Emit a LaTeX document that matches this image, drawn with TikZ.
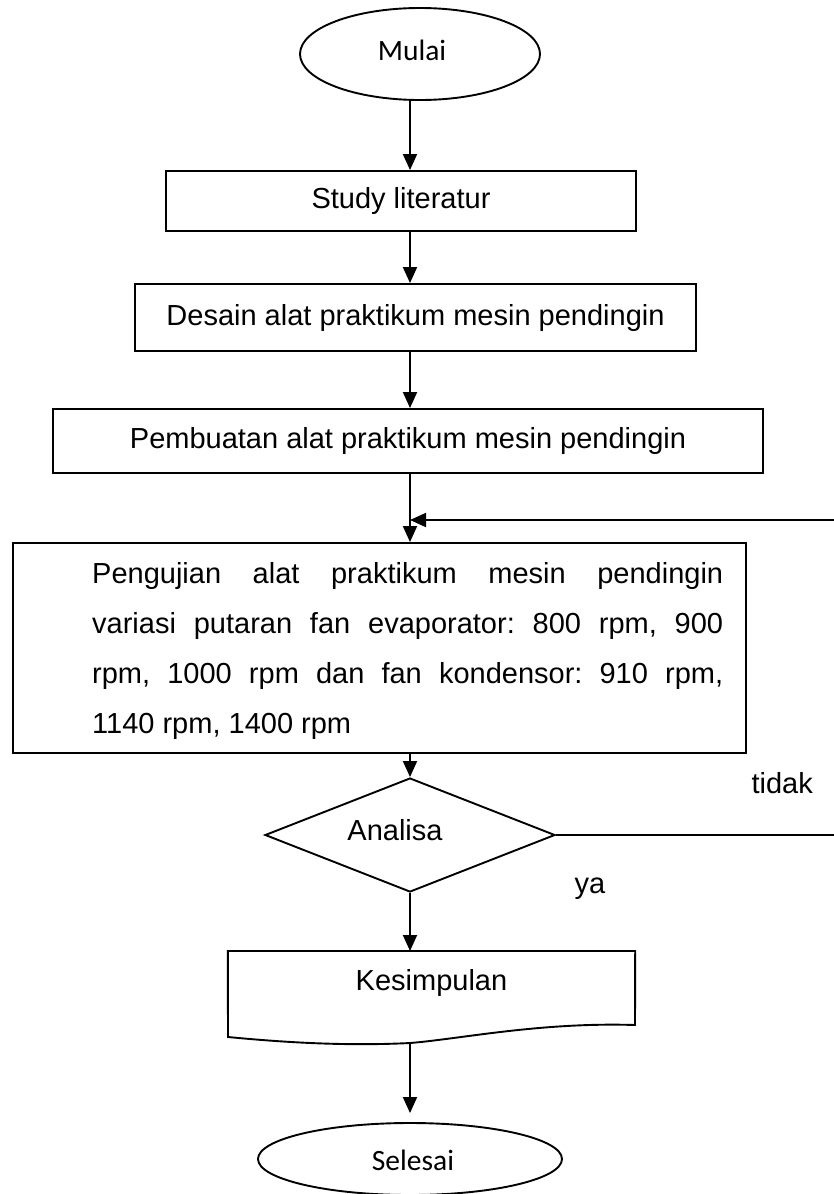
\documentclass[tikz,border=0pt]{standalone}
\usepackage{fontspec}
\setmainfont{Liberation Sans}
\newfontfamily\calibfont{Carlito}
\usetikzlibrary{shapes.geometric,arrows.meta}
\frenchspacing
\begin{document}
\begin{tikzpicture}[x=1pt,y=-1pt,
  every node/.style={font=\fontsize{29}{50}\selectfont},
  line/.style={line width=1.9pt},
  arr/.style={line width=1.9pt,-{Triangle[length=16pt,width=14pt]}},
  box/.style={draw,line width=1.9pt,rectangle,inner sep=0pt},
  term/.style={draw,ellipse,line width=1.9pt,inner sep=0pt},
  termtext/.style={anchor=base,font=\calibfont\fontsize{29.5}{35}\selectfont}]
\useasboundingbox (0,0) rectangle (834,1194);
\coordinate (axis) at (410,0);
% start
\node[term,minimum width=240pt,minimum height=92pt] (mulai) at (420,54) {};
\node[termtext] (mulaitxt) at (412,60) {Mulai};
% process boxes
\node[box,minimum width=470pt,minimum height=60pt] (study) at (401,201) {Study literatur};
\node[box,minimum width=561pt,minimum height=67pt] (desain) at (415.5,317.5) {Desain alat praktikum mesin pendingin};
\node[box,minimum width=710pt,minimum height=64pt] (pembuatan) at (408,441) {Pembuatan alat praktikum mesin pendingin};
\node[box,minimum width=733pt,minimum height=210pt] (pengujian) at (379.5,648) {};
\node[anchor=base west,inner sep=0pt] (pengtxt) at (92,583) {\parbox[t]{631pt}{\fontsize{29}{50.3}\selectfont\frenchspacing
\makebox[631pt][s]{Pengujian alat praktikum mesin pendingin}\\
\makebox[631pt][s]{variasi putaran fan evaporator: 800 rpm, 900}\\
\makebox[631pt][s]{rpm, 1000 rpm dan fan kondensor: 910 rpm,}\\
1140 rpm, 1400 rpm}};
% decision
\node[draw,diamond,line width=1.9pt,inner sep=0pt,shape aspect=2.54,minimum width=290pt,minimum height=114pt] (dia) at (410,835) {};
\node[anchor=base] (analisa) at (395,840) {Analisa};
\node[anchor=base west] (tidak) at (748,793) {tidak};
\node[anchor=base west] (ya) at (571,893) {ya};
% document
\node[anchor=north,inner sep=0pt,inner ysep=18pt,text height=21pt,text depth=6pt,minimum width=407pt] (kes) at (431.5,951) {Kesimpulan};
\draw[line] (kes.north west) -- (kes.north east) -- (635,1025)
  .. controls (540,1022) and (460,1039) .. (410,1043)
  .. controls (350,1046) and (290,1043) .. (228,1037) -- cycle;
\coordinate (kesb) at (410,1043);
% end
\node[term,minimum width=304pt,minimum height=72pt] (selesai) at (410,1159) {};
\node[termtext] (selesaitxt) at (413,1170) {Selesai};
% connectors
\draw[arr] (mulai.south -| axis) -- (study.north -| axis);
\draw[arr] (study.south -| axis) -- (desain.north -| axis);
\draw[arr] (desain.south -| axis) -- (pembuatan.north -| axis);
\draw[arr] (pembuatan.south -| axis) -- (pengujian.north -| axis);
\coordinate (join) at (410,520);
\coordinate (fbin) at (834,520);
\coordinate (fbout) at (834,835);
\draw[arr] (fbin) -- (join);
\draw[arr] (pengujian.south -| axis) -- (dia.north);
\draw[line] (dia.east) -- (fbout);
\draw[arr] (dia.south) -- (kes.north -| axis);
\draw[arr,shorten >=9pt] (kesb) -- (selesai.north -| axis);
\end{tikzpicture}
\end{document}
